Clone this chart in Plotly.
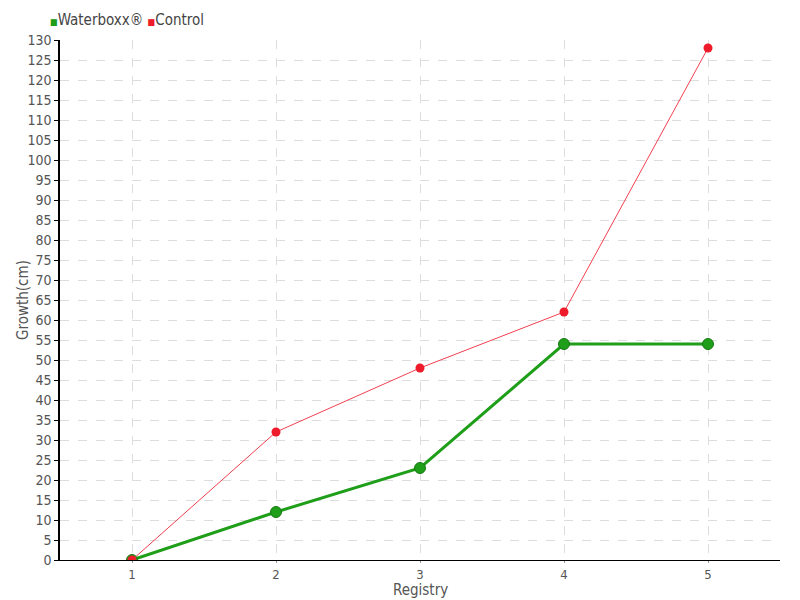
import plotly.graph_objects as go

registry = [1, 2, 3, 4, 5]
waterboxx = [0, 12, 23, 54, 54]
control = [0, 32, 48, 62, 128]
y_ticks = list(range(0, 131, 5))
series_names = ["Waterboxx®", "Control"]
series_colors = ["#1f9e1a", "#ee1c2a"]

FONT = "Liberation Sans Narrow, DejaVu Sans Condensed, Liberation Sans"

fig = go.Figure()
fig.add_trace(go.Scatter(
    x=registry, y=waterboxx, mode="lines+markers", name=series_names[0],
    line=dict(color="#1f9e1a", width=3),
    marker=dict(color="#1f9e1a", size=11, symbol="circle", line=dict(color="#197a16", width=1)),
    showlegend=False,
))
fig.add_trace(go.Scatter(
    x=registry, y=control, mode="lines+markers", name=series_names[1],
    line=dict(color="#f2404f", width=1),
    marker=dict(color="#ee1c2a", size=9, symbol="circle"),
    showlegend=False,
))

legend_text = " ".join(
    f"<span style='color:{c};font-size:9px'>■</span>{n}" for n, c in zip(series_names, series_colors)
)
fig.add_annotation(
    xref="paper", yref="paper", x=-0.017, y=1.0, yshift=9, xanchor="left", yanchor="bottom",
    text=legend_text, showarrow=False, font=dict(size=15, color="#444444"),
)
fig.add_annotation(
    xref="paper", yref="paper", x=0, y=0.5, xshift=-37, xanchor="center", yanchor="middle",
    text="Growth(cm)", textangle=-90, showarrow=False, font=dict(size=15, color="#555555"),
)
fig.add_annotation(
    xref="paper", yref="paper", x=0.5, y=0, yshift=-30, xanchor="center", yanchor="middle",
    text="Registry", showarrow=False, font=dict(size=15, color="#555555"),
)

fig.update_layout(
    width=800, height=600,
    margin=dict(l=60, r=20, t=40, b=40, autoexpand=False),
    plot_bgcolor="white", paper_bgcolor="white",
    font=dict(family=FONT, size=14, color="#555555"),
    showlegend=False,
    xaxis=dict(
        range=[0.5, 5.5], tickmode="array", tickvals=registry,
        ticktext=[str(v) for v in registry],
        showline=True, linecolor="black", linewidth=1,
        ticks="outside", ticklen=2, tickcolor="#999999",
        tickfont=dict(size=13),
        showgrid=True, gridcolor="#dddddd", griddash="dash", gridwidth=1,
        zeroline=False,
    ),
    yaxis=dict(
        range=[0, 130], tickmode="array", tickvals=y_ticks,
        showline=True, linecolor="black", linewidth=1.5,
        ticks="outside", ticklen=4, tickcolor="black",
        tickfont=dict(size=14),
        showgrid=True, gridcolor="#dddddd", griddash="dash", gridwidth=1,
        zeroline=False,
    ),
)

fig.write_html(
    "out.html",
    config={"displayModeBar": False},
    post_script="document.body.style.margin='0';document.body.style.overflow='hidden';",
)
